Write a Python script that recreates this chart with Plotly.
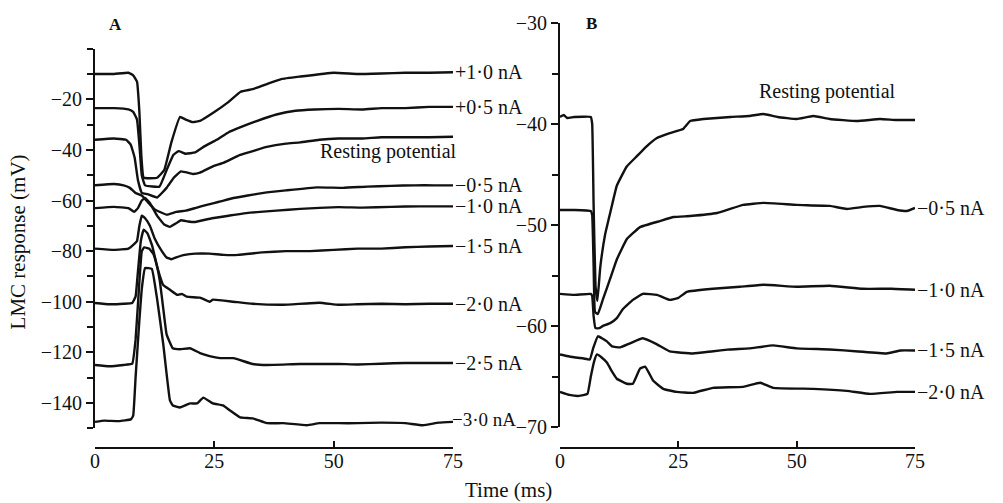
import plotly.graph_objects as go

# ---------------- Panel A (current steps, mV) ----------------
A_LABELS = ["+1·0 nA", "+0·5 nA", "Resting potential", "−0·5 nA", "−1·0 nA",
            "−1·5 nA", "−2·0 nA", "−2·5 nA", "−3·0 nA"]

A_P10_T = [0, 4, 7, 8, 8.8, 9.3, 9.7, 10.2, 13, 14.5, 16, 17.8, 19, 20.5, 22, 25, 28, 30.5, 33, 36, 39, 43, 50, 55, 60, 65, 70, 75]
A_P10_V = [-10, -10, -9.5, -10.5, -13, -25, -42, -51, -51, -48, -37, -27, -28, -29, -28.5, -25, -21, -17, -16, -14, -12, -11, -9.5, -10, -9.8, -9.5, -9.5, -9.3]

A_P05_T = [0, 4, 7, 8, 8.8, 9.3, 9.8, 10.5, 13.5, 15, 16.4, 17.5, 19, 21, 23, 25.5, 28, 30.5, 34, 38, 42, 46, 51, 56, 60, 65, 70, 75]
A_P05_V = [-23.5, -23.5, -24, -25, -28, -38, -50, -54, -54.5, -48, -42, -40.5, -41.5, -41, -38.5, -36, -33, -31, -28.5, -26, -24.5, -24, -23.8, -24, -23.5, -23.5, -23, -23]

A_REST_T = [0, 4, 6.5, 7.5, 8.3, 9, 9.8, 11, 13, 15, 16.5, 18, 20.5, 22, 24.7, 27, 30.4, 33, 36, 40, 43, 47, 51, 56, 60, 65, 70, 75]
A_REST_V = [-36, -35.5, -36, -38, -43, -52, -57, -57.5, -58.8, -55, -51, -48.5, -49.5, -49, -46.5, -45, -42, -40.5, -38.8, -37.5, -37, -36, -35.5, -35.5, -35, -35, -35, -34.8]

A_M05_T = [0, 4, 6, 7.3, 8.5, 9.8, 11, 12.5, 15, 17, 19, 21, 23.4, 26, 29, 32, 36, 40, 46.5, 52, 57, 62, 67, 71, 75]
A_M05_V = [-54, -53.5, -54, -55, -57, -58, -60.5, -63.5, -65.6, -64.5, -64, -63, -61.7, -60.5, -59, -58, -56.8, -56, -54.8, -55, -54.5, -54.2, -54, -54, -54]

A_M10_T = [0, 4, 7, 8.2, 9, 9.8, 10.5, 11.5, 13, 14.5, 15.7, 17, 18, 19.5, 21, 24.5, 28, 32.5, 38, 43, 51, 56, 62, 68, 75]
A_M10_V = [-63, -62.5, -63, -64.5, -63, -60, -59, -61, -66, -69.5, -70.4, -69, -67.8, -68.3, -68.5, -67, -66, -64.8, -64, -63.3, -62.6, -62.8, -62.5, -62.3, -62.3]

A_M15_T = [0, 4, 7, 8.3, 8.8, 9.3, 9.8, 10.5, 11.5, 12.5, 14, 15, 16, 17, 18.8, 21, 24, 27, 30, 35, 40, 45, 50, 55, 60, 65, 70, 75]
A_M15_V = [-79, -79.5, -79, -77, -76, -70, -66, -67, -70, -75, -80, -82.5, -83.2, -82.5, -81.5, -81, -81, -81.5, -81.5, -80.5, -80, -80, -79.5, -79, -79, -78.5, -78.2, -78]

A_M20_T = [0, 3, 6, 7.8, 8.5, 9, 9.6, 10.2, 11, 12, 13, 14.3, 15.7, 17.2, 18.2, 19.2, 22, 24, 24.7, 29, 33, 39.4, 47, 51, 55, 60, 65, 70, 75]
A_M20_V = [-100.5, -101, -100.8, -100.5, -98, -88, -76, -71.5, -73, -78, -86, -93.4, -95.3, -97.3, -96.9, -98, -98.4, -100, -99.2, -100, -100.8, -101.2, -100.4, -101.2, -101, -100.8, -101, -100.8, -100.8]

A_M25_T = [0, 3, 6, 7.8, 8.5, 9.2, 9.8, 10.3, 11.3, 12.2, 13, 13.6, 14.3, 15, 16.3, 17.8, 19.9, 22, 24, 26.2, 29, 33, 36, 43, 51, 55, 60, 65, 70, 75]
A_M25_V = [-125, -125.5, -125, -124.5, -115, -95, -80, -78.5, -79, -81, -86, -92, -102.7, -112.9, -118.4, -118.8, -118.4, -120.3, -121.5, -122.3, -122.3, -124.6, -125, -124.6, -124.6, -124.8, -124.5, -124.2, -124.2, -124.2]

A_M30_T = [0, 2, 5, 7.5, 8, 8.5, 9.2, 9.8, 10.5, 11.9, 13, 14.3, 15.7, 16.3, 17.8, 19.9, 21.4, 22.7, 24.7, 26.8, 28.3, 30.4, 33, 36, 39.4, 44.4, 47, 51, 55, 60, 65, 68.7, 72, 75]
A_M30_V = [-147.5, -147, -147.2, -146.5, -145, -130, -110, -95, -86.7, -87, -98.8, -116.8, -139, -141, -141.8, -140.2, -140.2, -137.9, -140.2, -141, -143, -145.7, -146.1, -148, -148, -148.8, -148, -148, -148, -147.8, -148, -148.8, -147.8, -147.5]

# ---------------- Panel B ----------------
B_LABELS = ["Resting potential", "−0·5 nA", "−1·0 nA", "−1·5 nA", "−2·0 nA"]

B_REST_T = [0, 0.8, 1.5, 3, 6.5, 6.8, 7.1, 7.5, 7.9, 8.5, 9.5, 10.6, 12, 14.1, 16.2, 18.3, 20.4, 23.2, 26, 27.5, 30.3, 36, 40, 43, 46, 50, 53.5, 57, 62.7, 67.6, 71, 75]
B_REST_V = [-39.3, -39.1, -39.4, -39.3, -39.3, -40, -48, -56, -57.5, -54.2, -51, -48.8, -46.1, -44.2, -43.2, -42.2, -41.4, -40.9, -40.5, -39.7, -39.5, -39.3, -39.2, -39, -39.3, -39.5, -39.2, -39.5, -39.7, -39.5, -39.6, -39.6]

B_M05_T = [0, 3, 6.5, 6.8, 7.1, 7.4, 8, 9.1, 10.6, 12, 14.1, 16.9, 21.1, 24, 27.5, 33.2, 38.7, 43, 50, 57, 60.6, 64, 67.6, 71.2, 73.3, 75]
B_M05_V = [-48.5, -48.5, -48.6, -49, -54, -58.6, -58.8, -57.3, -55.3, -53.4, -51.4, -50.2, -49.6, -49.2, -49.1, -48.8, -48, -47.8, -48, -48.1, -48.4, -48.2, -48.1, -48.5, -48.6, -48.3]

B_M10_T = [0, 3, 6.5, 6.8, 7.1, 7.5, 8.3, 9, 10.6, 12, 13.3, 15.4, 17.5, 20.5, 23.2, 25, 26.8, 32.3, 38, 43, 50, 57, 64, 70, 75]
B_M10_V = [-56.8, -56.9, -56.8, -57, -59, -60.2, -60.2, -60, -59.7, -59.2, -58.3, -57.4, -56.8, -56.9, -57.4, -57.2, -56.6, -56.3, -56.1, -55.9, -56.1, -56, -56.3, -56.3, -56.4]

B_M15_T = [0, 2, 5, 6.3, 7, 8, 9.9, 11, 12.7, 14.8, 17.5, 20.5, 23.2, 28.1, 32, 35.9, 40, 45, 50, 57, 63, 69, 72, 75]
B_M15_V = [-62.8, -63, -63.2, -63.3, -62.2, -61, -61.5, -62, -62.1, -61.7, -61.2, -61.8, -62.5, -62.7, -62.5, -62.3, -62.2, -61.9, -62.2, -62.3, -62.5, -62.7, -62.4, -62.4]

B_M20_T = [0, 2, 4, 5.8, 6.5, 7.2, 7.8, 8.8, 9.9, 11, 12, 14.1, 15.4, 16.9, 18, 19.7, 21.8, 24.6, 28.1, 32.3, 38.7, 42.3, 45, 53.5, 60.6, 65.5, 71.2, 75]
B_M20_V = [-66.5, -66.8, -66.9, -66.7, -65, -63.5, -62.8, -63.1, -63.6, -64.5, -65.2, -65.7, -65.7, -64.2, -64, -65.4, -66.2, -66.5, -66.6, -66.1, -66, -65.6, -66.1, -66.2, -66.4, -66.7, -66.5, -66.5]

X_TICKS = [0, 25, 50, 75]
A_Y_TICKS = [-20, -40, -60, -80, -100, -120, -140]
B_Y_TICKS = [-30, -40, -50, -60, -70]

FONT = "Liberation Serif, Times New Roman, serif"
INK = "#111111"
TXT = 20

fig = go.Figure()

a_series = [(A_P10_T, A_P10_V), (A_P05_T, A_P05_V), (A_REST_T, A_REST_V), (A_M05_T, A_M05_V),
            (A_M10_T, A_M10_V), (A_M15_T, A_M15_V), (A_M20_T, A_M20_V), (A_M25_T, A_M25_V),
            (A_M30_T, A_M30_V)]
for (t, v), name in zip(a_series, A_LABELS):
    fig.add_trace(go.Scatter(x=t, y=v, mode="lines", name=name, xaxis="x", yaxis="y",
                             line=dict(color=INK, width=2.4, shape="spline", smoothing=0.3),
                             showlegend=False))

b_series = [(B_REST_T, B_REST_V), (B_M05_T, B_M05_V), (B_M10_T, B_M10_V),
            (B_M15_T, B_M15_V), (B_M20_T, B_M20_V)]
for (t, v), name in zip(b_series, B_LABELS):
    fig.add_trace(go.Scatter(x=t, y=v, mode="lines", name=name, xaxis="x2", yaxis="y2",
                             line=dict(color=INK, width=2.4, shape="spline", smoothing=0.3),
                             showlegend=False))

# end-of-trace current labels
annotations = []
for (t, v), name in zip(a_series, A_LABELS):
    if name == "Resting potential":
        continue
    last = name == "−3·0 nA"   # sits next to panel B's −70 tick label
    annotations.append(dict(x=75, y=v[-1], xref="x", yref="y", text=name, showarrow=False,
                            xanchor="left", yanchor="middle", xshift=-3 if last else 0,
                            yshift=2 if last else 0,
                            font=dict(family=FONT, size=19 if last else TXT, color=INK)))
for (t, v), name in zip(b_series, B_LABELS):
    if name == "Resting potential":
        continue
    annotations.append(dict(x=75, y=v[-1], xref="x2", yref="y2", text=name, showarrow=False,
                            xanchor="left", yanchor="middle", xshift=0,
                            font=dict(family=FONT, size=TXT, color=INK)))

C = dict(xanchor="center", yanchor="middle", showarrow=False)
annotations += [
    dict(x=61.4, y=-40.6, xref="x", yref="y", text="Resting potential",
         font=dict(family=FONT, size=TXT, color=INK), **C),
    dict(x=56.6, y=-36.8, xref="x2", yref="y2", text="Resting potential",
         font=dict(family=FONT, size=TXT, color=INK), **C),
    dict(x=(115 - 95) / 820, y=(448 - 20) / 430, xref="paper", yref="paper", text="<b>A</b>",
         font=dict(family=FONT, size=17, color=INK), **C),
    dict(x=(591 - 95) / 820, y=(448 - 19) / 430, xref="paper", yref="paper", text="<b>B</b>",
         font=dict(family=FONT, size=17, color=INK), **C),
    dict(x=(18 - 95) / 820, y=(448 - 240) / 430, xref="paper", yref="paper",
         text="LMC response (mV)", textangle=-90,
         font=dict(family=FONT, size=21, color=INK), **C),
    dict(x=(508 - 95) / 820, y=(448 - 490) / 430, xref="paper", yref="paper",
         text="Time (ms)", font=dict(family=FONT, size=21, color=INK), **C),
]

xcommon = dict(range=[0, 75], tickvals=X_TICKS, showline=True, linecolor=INK, linewidth=2,
               ticks="inside", ticklen=6, tickwidth=2, tickcolor=INK, showgrid=False,
               zeroline=False, anchor="free", position=0, ticklabelstandoff=-5,
               tickfont=dict(family=FONT, size=TXT, color=INK))
ycommon = dict(showline=True, linecolor=INK, linewidth=2, ticks="outside", ticklen=7,
               tickwidth=2, tickcolor=INK, showgrid=False, zeroline=False,
               tickfont=dict(family=FONT, size=TXT, color=INK))

fig.update_layout(
    width=1003, height=503,
    margin=dict(l=95, r=88, t=18, b=55),
    paper_bgcolor="white", plot_bgcolor="white",
    xaxis=dict(domain=[0, 358 / 820], **xcommon),
    xaxis2=dict(domain=[465 / 820, 1], **xcommon),
    yaxis=dict(domain=[(448 - 428) / 430, (448 - 44) / 430], range=[-150, 0],
               tickvals=A_Y_TICKS, anchor="x",
               minor=dict(tick0=0, dtick=10, ticks="outside", ticklen=6, tickwidth=2,
                          tickcolor=INK, showgrid=False),
               **ycommon),
    yaxis2=dict(domain=[(448 - 427) / 430, 1], range=[-70, -30], tickvals=B_Y_TICKS,
                anchor="x2",
                minor=dict(tick0=-30, dtick=5, ticks="outside", ticklen=6, tickwidth=2,
                           tickcolor=INK, showgrid=False),
                **ycommon),
    annotations=annotations,
    showlegend=False,
)

fig.write_html("out.html", config={"displayModeBar": False},
               post_script="document.body.style.margin='0';document.body.style.padding='0';")
